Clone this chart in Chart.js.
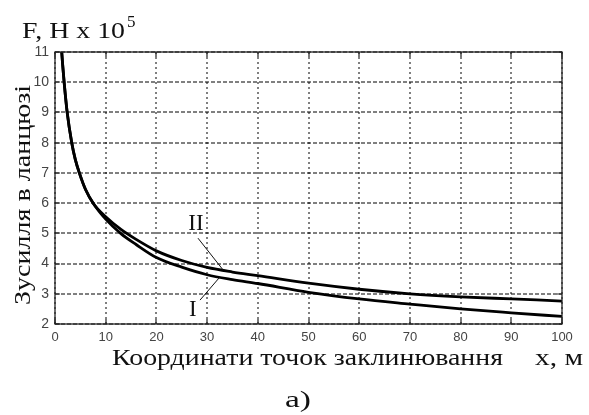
<html>
<head>
<script src="https://cdn.jsdelivr.net/npm/chart.js@4.4.0/dist/chart.umd.min.js"></script>
<title>Зусилля в ланцюзі</title>
<style>
    body { margin: 0; background: #fff; }
    canvas { display: block; }
</style>
</head>
<body>
<canvas id="force-chart" width="589" height="415"></canvas>
<script>
    // x, m - coordinates of wedging points
    var xCoords = [1.2, 1.5, 1.8, 2.4, 3.3, 4, 4.8, 6, 7.6, 10, 13, 16, 20, 25, 30, 35, 40, 50, 60, 70, 80, 90, 100];
    // force in chain, N x 10^5
    var forceII = [11.3, 10.6, 10, 9, 8, 7.45, 7, 6.46, 5.98, 5.55, 5.13, 4.8, 4.42, 4.1, 3.87, 3.72, 3.6, 3.35, 3.15, 3.0, 2.9, 2.83, 2.76];
    var forceI  = [11.3, 10.6, 10, 9, 8, 7.45, 7, 6.46, 5.98, 5.47, 4.99, 4.63, 4.2, 3.88, 3.63, 3.47, 3.34, 3.05, 2.83, 2.66, 2.5, 2.37, 2.25];

    var xTicks = [0, 10, 20, 30, 40, 50, 60, 70, 80, 90, 100];
    var yTicks = [2, 3, 4, 5, 6, 7, 8, 9, 10, 11];

    // curve labels and their leader lines, in data units
    var curveLabels = [
        { text: 'II', x: 27.8, y: 5.31, from: [28.2, 4.84], to: [33.1, 3.8] },
        { text: 'I', x: 27.2, y: 2.46, from: [28.6, 2.79], to: [32.5, 3.55] }
    ];

    function toPoints(ys) {
        return xCoords.map((x, i) => ({ x: x, y: ys[i] }));
    }

    var serif = '"Liberation Serif", "DejaVu Serif", serif';

    // draw text squeezed/stretched horizontally to a given width
    function fitText(ctx, text, x, y, size, width) {
        ctx.font = size + 'px ' + serif;
        var k = width / ctx.measureText(text).width;
        ctx.save();
        ctx.translate(x, y);
        ctx.scale(k, 1);
        ctx.fillText(text, 0, 0);
        ctx.restore();
    }

    var decorations = {
        id: 'decorations',
        beforeDatasetsDraw(chart) {
            var ctx = chart.ctx;
            var a = chart.chartArea;
            var sx = chart.scales.x, sy = chart.scales.y;
            ctx.save();
            ctx.strokeStyle = '#000';
            ctx.lineWidth = 1;
            // horizontal grid, longer dashes
            ctx.setLineDash([4, 2]);
            ctx.beginPath();
            yTicks.forEach(v => {
                var py = Math.round(sy.getPixelForValue(v));
                ctx.moveTo(a.left, py); ctx.lineTo(a.right, py);
            });
            ctx.stroke();
            // vertical grid, short dashes
            ctx.setLineDash([2, 3]);
            ctx.beginPath();
            xTicks.forEach(v => {
                var px = Math.round(sx.getPixelForValue(v));
                ctx.moveTo(px, a.bottom); ctx.lineTo(px, a.top);
            });
            ctx.stroke();
            ctx.restore();
        },
        afterDraw(chart) {
            var ctx = chart.ctx;
            var a = chart.chartArea;
            var sx = chart.scales.x, sy = chart.scales.y;
            ctx.save();

            // frame and inward ticks
            ctx.strokeStyle = '#222';
            ctx.lineWidth = 1.3;
            ctx.strokeRect(Math.round(a.left), Math.round(a.top),
                Math.round(a.right - a.left), Math.round(a.bottom - a.top));
            ctx.lineWidth = 1.2;
            ctx.beginPath();
            xTicks.forEach(v => {
                var px = Math.round(sx.getPixelForValue(v));
                ctx.moveTo(px, a.bottom); ctx.lineTo(px, a.bottom - 5);
                ctx.moveTo(px, a.top); ctx.lineTo(px, a.top + 5);
            });
            yTicks.forEach(v => {
                var py = Math.round(sy.getPixelForValue(v));
                ctx.moveTo(a.left, py); ctx.lineTo(a.left + 5, py);
                ctx.moveTo(a.right, py); ctx.lineTo(a.right - 5, py);
            });
            ctx.stroke();

            // curve labels
            ctx.fillStyle = '#111';
            ctx.strokeStyle = '#111';
            ctx.lineWidth = 1;
            ctx.font = '23px ' + serif;
            ctx.textAlign = 'center';
            ctx.textBaseline = 'middle';
            curveLabels.forEach(l => {
                ctx.fillText(l.text, sx.getPixelForValue(l.x), sy.getPixelForValue(l.y));
                ctx.beginPath();
                ctx.moveTo(sx.getPixelForValue(l.from[0]), sy.getPixelForValue(l.from[1]));
                ctx.lineTo(sx.getPixelForValue(l.to[0]), sy.getPixelForValue(l.to[1]));
                ctx.stroke();
            });

            ctx.textAlign = 'left';
            ctx.textBaseline = 'alphabetic';

            // y title on top: F, H x 10^5
            fitText(ctx, 'F, Н x 10', 22, 38, 23, 103);
            ctx.font = '17px ' + serif;
            ctx.fillText('5', 127, 27);

            // rotated y title
            ctx.save();
            ctx.translate(30, 305);
            ctx.rotate(-Math.PI / 2);
            fitText(ctx, 'Зусилля в ланцюзі', 0, 0, 24, 220);
            ctx.restore();

            // x title
            fitText(ctx, 'Координати точок заклинювання', 112, 365, 23, 391);
            fitText(ctx, 'x, м', 535, 365, 23, 48);

            // figure caption
            fitText(ctx, 'а)', 285, 407, 24, 26);
            ctx.restore();
        }
    };

    var lineStyle = {
        borderColor: '#000',
        borderWidth: 2.8,
        pointRadius: 0,
        fill: false,
        cubicInterpolationMode: 'monotone'
    };

    new Chart(document.getElementById('force-chart'), {
        type: 'line',
        data: {
            datasets: [
                Object.assign({ label: 'II', data: toPoints(forceII) }, lineStyle),
                Object.assign({ label: 'I', data: toPoints(forceI) }, lineStyle)
            ]
        },
        options: {
            responsive: false,
            animation: false,
            devicePixelRatio: 1,
            layout: { padding: { top: 52, right: 27, left: 0, bottom: 0 } },
            plugins: {
                legend: { display: false },
                tooltip: { enabled: false }
            },
            scales: {
                x: {
                    type: 'linear',
                    min: 0,
                    max: 100,
                    afterFit: s => { s.height = 91; },
                    afterBuildTicks: s => { s.ticks = xTicks.map(v => ({ value: v })); },
                    grid: { display: false, drawTicks: false },
                    border: { display: false },
                    ticks: {
                        color: '#444',
                        padding: 6,
                        maxRotation: 0,
                        font: { family: '"Liberation Sans", Arial, sans-serif', size: 13 }
                    }
                },
                y: {
                    min: 2,
                    max: 11,
                    afterFit: s => { s.width = 55; },
                    afterBuildTicks: s => { s.ticks = yTicks.map(v => ({ value: v })); },
                    grid: { display: false, drawTicks: false },
                    border: { display: false },
                    ticks: {
                        color: '#444',
                        padding: 6,
                        font: { family: '"Liberation Sans", Arial, sans-serif', size: 14 }
                    }
                }
            }
        },
        plugins: [decorations]
    });
</script>
</body>
</html>
